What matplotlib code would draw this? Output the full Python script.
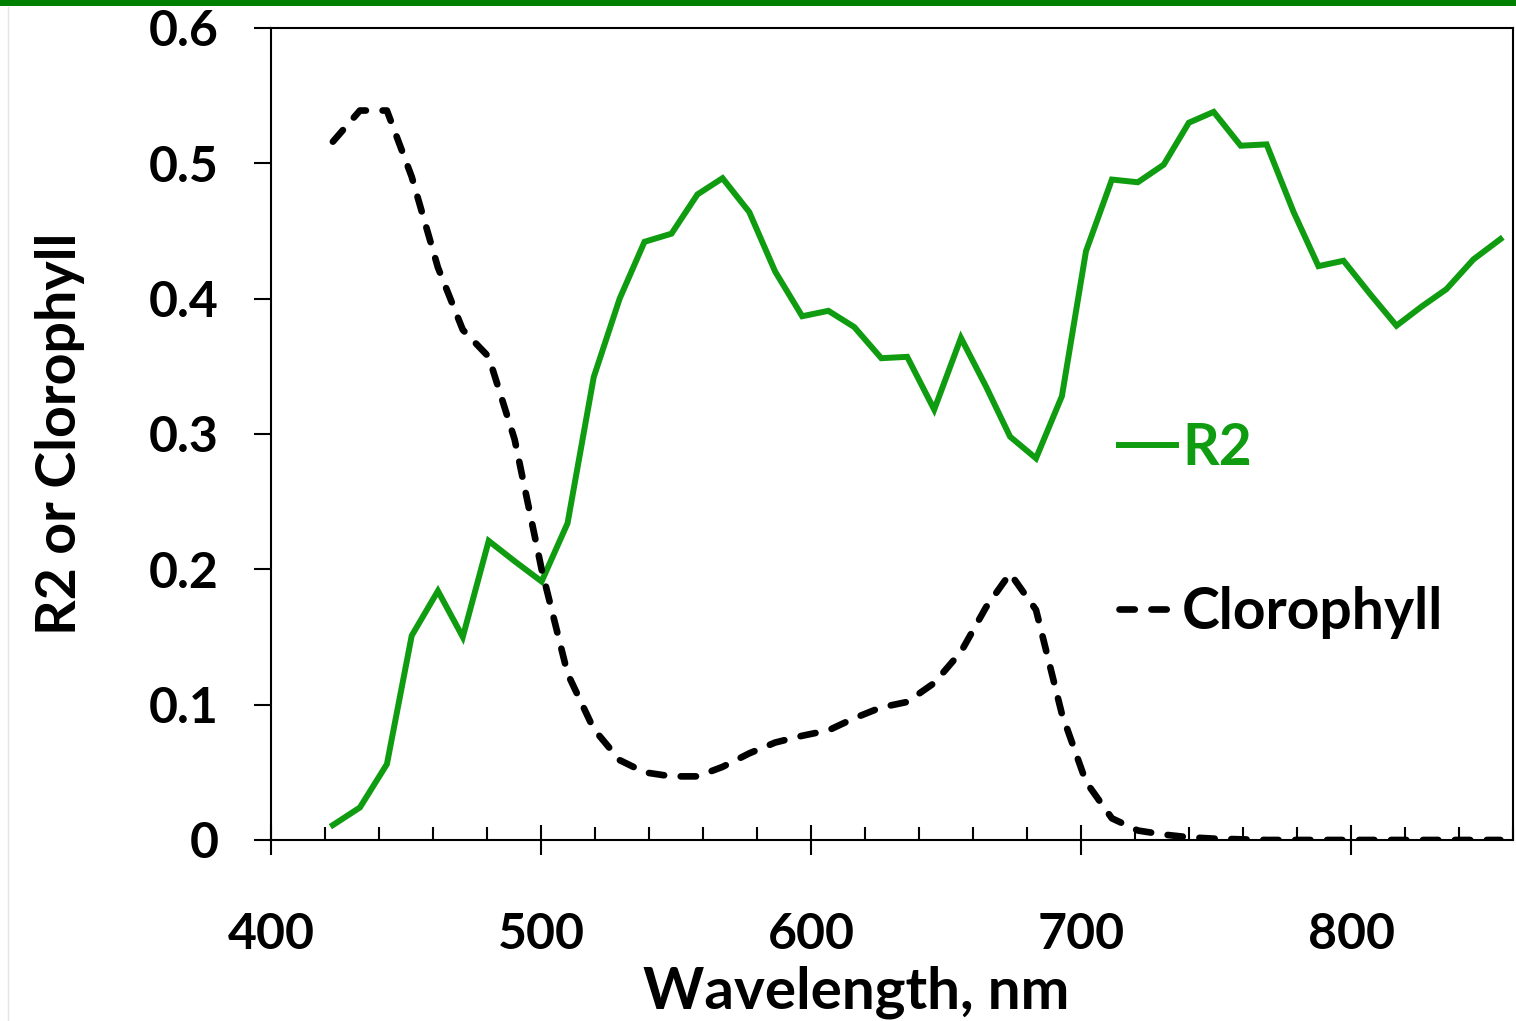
import matplotlib
matplotlib.use("Agg")
import matplotlib.pyplot as plt
from matplotlib.patches import Rectangle
from matplotlib.lines import Line2D
from matplotlib.ticker import MultipleLocator

plt.rcParams['font.family'] = ['Lato', 'DejaVu Sans']
plt.rcParams['font.weight'] = 'bold'
plt.rcParams['lines.scale_dashes'] = False

# wavelengths (nm)
wavelength = [422.9, 432.9, 442.9, 452.1, 461.8, 471.0, 480.6, 490.2, 500.2, 509.8,
              519.5, 529.1, 538.3, 548.3, 557.9, 567.2, 577.1, 586.7, 596.7, 606.4,
              616.0, 626.0, 635.6, 645.6, 655.5, 664.8, 673.7, 683.3, 692.9, 701.8,
              711.4, 721.0, 730.6, 739.9, 749.1, 759.1, 768.7, 778.7, 787.9, 797.2,
              807.2, 816.8, 826.0, 835.3, 845.3, 855.3]

r2 = [0.011, 0.024, 0.056, 0.151, 0.184, 0.150, 0.221, 0.206, 0.191, 0.234,
      0.342, 0.400, 0.442, 0.448, 0.477, 0.489, 0.464, 0.420, 0.387, 0.391,
      0.379, 0.356, 0.357, 0.318, 0.371, 0.335, 0.298, 0.282, 0.328, 0.435,
      0.488, 0.486, 0.499, 0.530, 0.538, 0.513, 0.514, 0.464, 0.424, 0.428,
      0.403, 0.380, 0.394, 0.407, 0.429, 0.444]

chlorophyll = [0.516, 0.539, 0.539, 0.490, 0.423, 0.377, 0.357, 0.296, 0.200, 0.123,
               0.082, 0.059, 0.050, 0.047, 0.047, 0.054, 0.064, 0.072, 0.077, 0.081,
               0.090, 0.098, 0.102, 0.116, 0.139, 0.172, 0.197, 0.170, 0.093, 0.043,
               0.016, 0.007, 0.004, 0.002, 0.001, 0.0005, 0.0, 0.0, 0.0, 0.0,
               0.0, 0.0, 0.0, 0.0, 0.0, 0.0]

green = '#109c10'

fig = plt.figure(figsize=(15.16, 10.21), dpi=100)
ax = fig.add_axes([0.1788, 0.1773, 0.8193, 0.7953])

ax.plot(wavelength, r2, color=green, lw=4.3, solid_joinstyle='miter', label='R2')
ax.plot(wavelength, chlorophyll, color='black', lw=4.8, dashes=(11, 12),
        dash_capstyle='round', label='Clorophyll')

ax.set_xlim(400, 860)
ax.set_ylim(0, 0.6)
ax.xaxis.set_major_locator(MultipleLocator(100))
ax.xaxis.set_minor_locator(MultipleLocator(20))
ax.yaxis.set_major_locator(MultipleLocator(0.1))
ax.yaxis.set_major_formatter(plt.FuncFormatter(lambda v, p: '0' if v == 0 else f'{v:.1f}'))

for s in ax.spines.values():
    s.set_linewidth(1.5)

ax.tick_params(axis='x', which='major', direction='inout', length=22, width=1.5,
               labelsize=36, pad=41)
ax.tick_params(axis='x', which='minor', direction='in', length=9.5, width=1.5)
ax.tick_params(axis='y', which='major', direction='out', length=12, width=1.5,
               labelsize=36, pad=26)

ax.set_xlabel('Wavelength, nm', fontsize=42, fontweight='bold')
ax.xaxis.set_label_coords(0.471, -0.154)
ax.set_ylabel('R2 or Clorophyll', fontsize=40, fontweight='bold', labelpad=46)

ax.legend(loc='center left', bbox_to_anchor=(0.683, 0.381), frameon=False,
          fontsize=41, handlelength=1.0, handletextpad=0.1, labelspacing=1.96,
          borderpad=0, borderaxespad=0, labelcolor='linecolor')

# slide decorations: green bar at top, faint border at left
fig.add_artist(Rectangle((0, 1 - 6.5 / 1021), 1, 6.5 / 1021, transform=fig.transFigure,
                         color='#008000', lw=0))
fig.add_artist(Line2D([7.5 / 1516, 7.5 / 1516], [0, 1 - 7 / 1021], transform=fig.transFigure,
                      color='#e4e4e4', lw=1))

fig.savefig('out.png', dpi=100)
